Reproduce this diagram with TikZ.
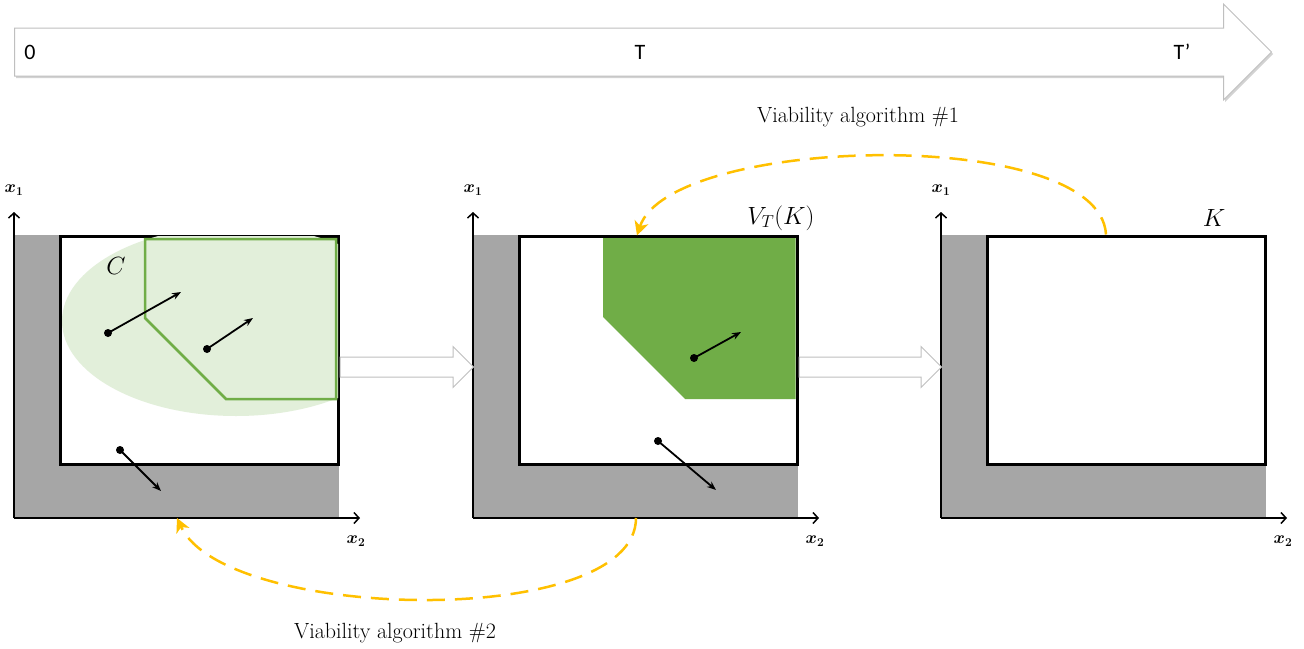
\documentclass[tikz,border=0pt]{standalone}
\usepackage{fontspec}
\newfontfamily\calibri{Carlito}
\usetikzlibrary{arrows.meta,shadows,shapes.arrows}
\definecolor{ViaGray}{HTML}{A6A6A6}
\definecolor{ViaGreen}{HTML}{70AD47}
\definecolor{ViaGreenLight}{HTML}{E2EFDA}
\definecolor{ViaOrange}{HTML}{FFC000}
\definecolor{ViaEdge}{HTML}{BFBFBF}

\begin{document}
\begin{tikzpicture}[x=1pt,y=-1pt,
  wall/.style={fill=ViaGray},
  kset/.style={draw=black,line width=3pt,fill=white,minimum width=278pt,minimum height=228pt,inner sep=0pt},
  axe/.style={line width=1.5pt,-{Straight Barb[length=5pt,width=11pt]}},
  axlab/.style={font=\fontsize{17}{17}\selectfont\boldmath},
  setlab/.style={font=\fontsize{24}{24}\selectfont},
  dot/.style={circle,fill=black,inner sep=0pt,minimum size=8pt},
  vec/.style={line width=1.8pt,-{Stealth[length=9pt,width=7pt]}},
  bigarr/.style={single arrow,draw=ViaEdge,fill=white,line width=1pt,inner xsep=0pt,inner ysep=9.5pt,
    minimum width=40pt,single arrow head extend=10.5pt,anchor=tail},
  timeline/.style={single arrow,draw=ViaEdge,fill=white,line width=1pt,inner xsep=0pt,inner ysep=23.5pt,
    minimum width=95pt,single arrow head extend=24pt,anchor=tail,
    drop shadow={shadow xshift=1.5pt,shadow yshift=-2pt,fill=black!35}},
  tick/.style={font=\calibri\fontsize{22}{22}\selectfont},
  algo/.style={ViaOrange,line width=2.5pt,dash pattern=on 18pt off 10pt,-{Stealth[length=14pt,width=14pt,inset=4pt]}},
  algtxt/.style={font=\fontsize{22}{22}\selectfont}]
  \useasboundingbox (0,0) rectangle (1304,648);

  % time axis
  \node[timeline,minimum height=1257pt] (tl) at (14,52) {};
  \node[tick] (t0) at (30,52) {0};
  \node[tick] (t1) at (640,52) {T};
  \node[tick] (t2) at (1182,52) {T’};

  % the three state spaces
  \foreach \ox/\n in {14/1,473/2,941/3}{
    \fill[wall] (\ox,235) rectangle ++(325,283);
    \node[kset] (K\n) at (\ox+185,350) {};
    \coordinate (O\n) at (\ox,518);
    \draw[axe] (O\n) -- ++(0,-306);
    \draw[axe] (O\n) -- ++(346,0);
    \node[axlab] at (\ox,190) {$x_1$};
    \node[axlab] at (\ox+342,541) {$x_2$};
  }

  % panel 1: C and the viability kernel
  \begin{scope}
    \clip ([shift={(1.5,1.5)}]K1.north west) rectangle ([shift={(-1.5,-1.5)}]K1.south east);
    \fill[ViaGreenLight] (236,321) ellipse [x radius=174,y radius=95];
    \draw[ViaGreen,line width=2.5pt,fill=ViaGreenLight] (145,239) -- (145,318) -- (226,399) -- (336,399) -- (336,239) -- cycle;
  \end{scope}
  \node[setlab] (lc) at (116,266) {$C$};
  \node[dot] (a1) at (108,333) {};
  \coordinate (b1) at (181,292);
  \draw[vec] (a1.center) -- (b1);
  \node[dot] (a2) at (207,349) {};
  \coordinate (b2) at (253,318);
  \draw[vec] (a2.center) -- (b2);
  \node[dot] (a3) at (120,450) {};
  \coordinate (b3) at (161,491);
  \draw[vec] (a3.center) -- (b3);

  % panel 2: V_T(K)
  \fill[ViaGreen] (603,238) -- (603,317) -- (685,399) -- (795.5,399) -- (795.5,238) -- cycle;
  \node[setlab] (lv) at (781,218) {$V_T(K)$};
  \node[dot] (a4) at (694,358) {};
  \coordinate (b4) at (741,332);
  \draw[vec] (a4.center) -- (b4);
  \node[dot] (a5) at (658,441) {};
  \coordinate (b5) at (716,490);
  \draw[vec] (a5.center) -- (b5);

  % panel 3: K
  \node[setlab] (lk) at (1214,218) {$K$};

  % steps between panels
  \node[bigarr,minimum height=133.5pt] (s12) at (339.5,367) {};
  \node[bigarr,minimum height=142.5pt] (s23) at (798.5,367) {};

  % backward algorithms
  \coordinate (e1) at ([xshift=-21pt,yshift=-1pt]K2.north);
  \draw[algo] ([xshift=-20pt]K3.north) .. controls (1100,125) and (670,135) .. (e1);
  \node[algtxt] (alg1) at (858,117) {Viability algorithm \#1};
  \coordinate (e2) at ([xshift=163pt]O1);
  \draw[algo] ([xshift=163pt]O2) .. controls (636,630) and (225,622) .. (e2);
  \node[algtxt] (alg2) at (395,633) {Viability algorithm \#2};
\end{tikzpicture}
\end{document}
